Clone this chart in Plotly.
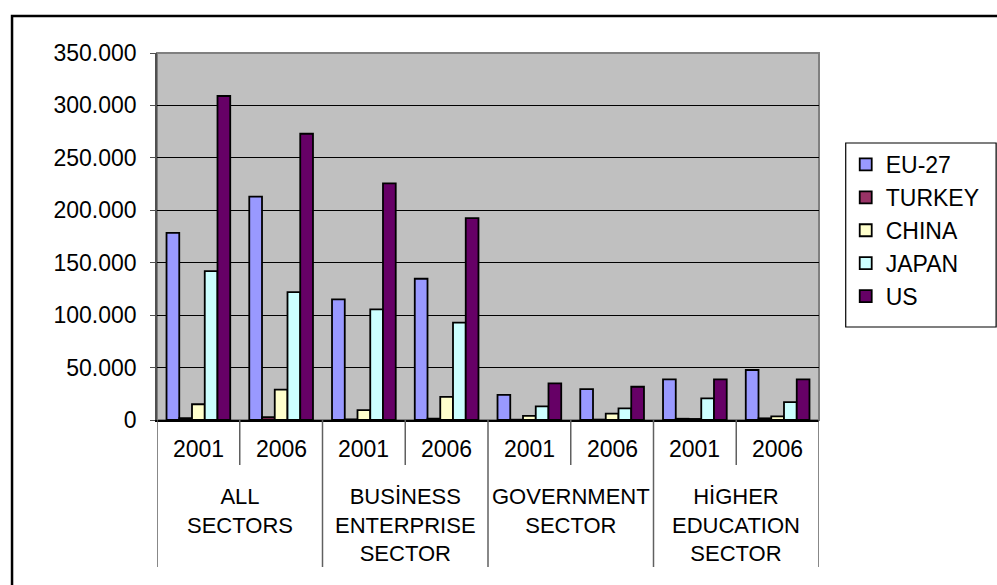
import plotly.graph_objects as go

# R&D data by sector of performance, 2001 vs 2006
sectors = [
    "ALL<br>SECTORS",
    "BUSİNESS<br>ENTERPRISE<br>SECTOR",
    "GOVERNMENT<br>SECTOR",
    "HİGHER<br>EDUCATION<br>SECTOR",
]
years = ["2001", "2006"]

eu27 = [178500, 213000, 115000, 134700, 24000, 29500, 38800, 47700]
turkey = [1800, 2600, 600, 1300, 300, 400, 1200, 1600]
china = [15000, 29000, 9500, 22000, 4000, 6000, 1000, 3500]
japan = [142000, 122000, 105500, 92800, 13000, 11000, 20700, 17000]
us = [309000, 273000, 225600, 192600, 35000, 31700, 38800, 38800]

series = [
    ("EU-27", eu27, "#9999FF"),
    ("TURKEY", turkey, "#993366"),
    ("CHINA", china, "#FFFFCC"),
    ("JAPAN", japan, "#CCFFFF"),
    ("US", us, "#660066"),
]

y_ticks = [0, 50000, 100000, 150000, 200000, 250000, 300000, 350000]

# category slots: one per (sector, year)
slots = [f"{s}|{y}" for s in sectors for y in years]

W, H = 997, 585
L, R, T, B = 157, 826, 53, 420  # plot area in pixels
FONT = "Liberation Sans, Arial, sans-serif"
FS = 23


def px_x(p):
    return (p - L) / (R - L)


def px_y(p):
    return (B - p) / (B - T)


fig = go.Figure()
for name, vals, col in series:
    fig.add_trace(go.Bar(
        x=slots, y=vals, name=name, legendgroup=name,
        marker=dict(color=col, line=dict(color="black", width=1.8)),
    ))

shapes = []
# plot area frame (top / right)
shapes.append(dict(type="rect", xref="paper", yref="paper", x0=0, x1=1, y0=0, y1=1,
                   line=dict(color="#808080", width=2), layer="below"))
# category dividers below the axis
n = len(slots)
for k in range(n + 1):
    outer = (k % 2 == 0)
    shapes.append(dict(type="line", xref="x", yref="paper",
                       x0=k - 0.5, x1=k - 0.5, y0=0,
                       y1=px_y(567 if outer else 465),
                       line=dict(color="#606060", width=1.5)))
# legend box
shapes.append(dict(type="rect", xref="paper", yref="paper",
                   x0=px_x(853), x1=px_x(1005), y0=px_y(327), y1=px_y(143),
                   fillcolor="white", line=dict(color="black", width=1.2)))
# outer chart border
shapes.append(dict(type="rect", xref="paper", yref="paper",
                   x0=px_x(10.5), x1=px_x(1010), y0=px_y(600), y1=px_y(16),
                   line=dict(color="black", width=2.5)))

annotations = []
for k in range(n):
    annotations.append(dict(xref="x", yref="paper", x=k, y=px_y(449),
                            text=years[k % 2], showarrow=False,
                            xanchor="center", yanchor="middle",
                            font=dict(family=FONT, size=FS, color="black")))
for j, s in enumerate(sectors):
    annotations.append(dict(xref="x", yref="paper", x=2 * j + 0.5, y=px_y(482),
                            text=s, showarrow=False, align="center",
                            xanchor="center", yanchor="top",
                            font=dict(family=FONT, size=22, color="black")))

fig.update_layout(
    width=W, height=H,
    margin=dict(l=L, r=W - R, t=T, b=H - B, pad=0),
    paper_bgcolor="white",
    plot_bgcolor="#C0C0C0",
    separators=",.",
    barmode="group",
    bargap=0.23,
    bargroupgap=0,
    font=dict(family=FONT, size=FS, color="black"),
    showlegend=True,
    legend=dict(
        x=px_x(853), xanchor="left", y=px_y(143), yanchor="top",
        bgcolor="rgba(0,0,0,0)", borderwidth=0,
        font=dict(family=FONT, size=FS, color="black"),
        tracegroupgap=8, traceorder="normal",
    ),
    xaxis=dict(
        type="category", categoryorder="array", categoryarray=slots,
        range=[-0.5, n - 0.5], showticklabels=False, ticks="",
        showgrid=False, showline=True, linecolor="black", linewidth=1.5,
        zeroline=False, fixedrange=True,
    ),
    yaxis=dict(
        range=[0, 350000], tickvals=y_ticks, tickformat=",d",
        showgrid=True, gridcolor="black", gridwidth=1,
        showline=True, linecolor="#505050", linewidth=1.5,
        ticks="outside", ticklen=5, tickcolor="#505050", tickwidth=1,
        ticklabelstandoff=9, zeroline=False,
        tickfont=dict(family=FONT, size=FS, color="black"),
    ),
    shapes=shapes,
    annotations=annotations,
)

fig.write_html("out.html")
